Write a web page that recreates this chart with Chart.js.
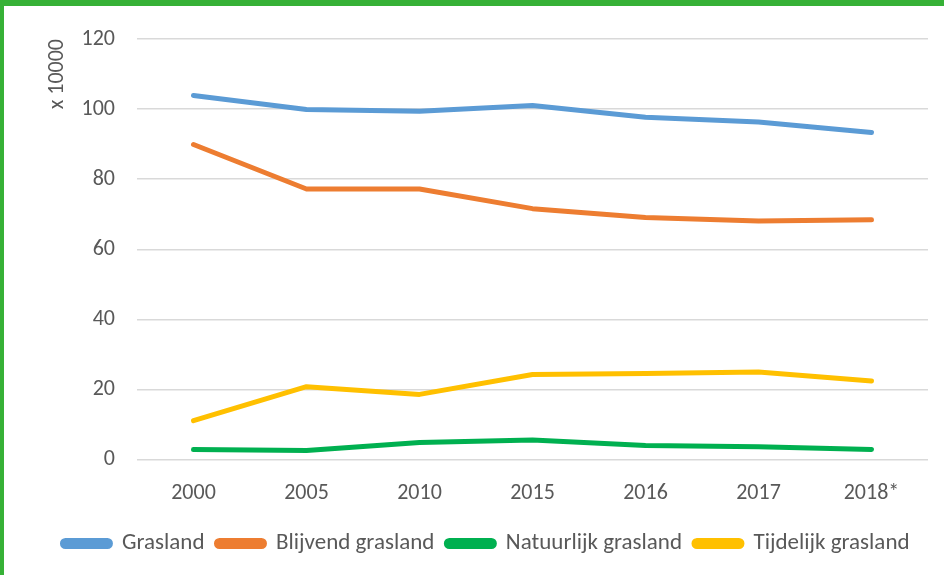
<!DOCTYPE html>
<html>
<head>
<meta charset="utf-8">
<script src="https://cdn.jsdelivr.net/npm/chart.js@4"></script>
<style>
body{margin:0;background:#fff;}
#wrap{width:940px;height:569px;border-top:6px solid #36b136;border-left:4px solid #36b136;}
</style>
</head>
<body>
<div id="wrap"><canvas id="mainCanvas" width="940" height="569"></canvas></div>
<script>
var years = ['2000','2005','2010','2015','2016','2017','2018*'];
var grasland = [103.9, 99.9, 99.4, 101.0, 97.7, 96.3, 93.3];
var blijvend = [89.9, 77.2, 77.2, 71.6, 69.1, 68.1, 68.4];
var natuurlijk = [2.9, 2.6, 4.9, 5.6, 4.0, 3.7, 2.9];
var tijdelijk = [11.1, 20.8, 18.6, 24.3, 24.6, 25.0, 22.4];
var yTicks = [0, 20, 40, 60, 80, 100, 120];

function serie(name, vals, col){
    return {label:name, data:vals, borderColor:col, backgroundColor:col,
        borderWidth:5, pointRadius:0, borderCapStyle:'round', borderJoinStyle:'round', tension:0};
}

var ctx = document.getElementById('mainCanvas').getContext('2d');
var fontFam = "Carlito, Lato, sans-serif";
new Chart(ctx, {
    type:'line',
    data:{
        labels:years,
        datasets:[
            serie('Grasland', grasland, '#5b9bd5'),
            serie('Blijvend grasland', blijvend, '#ed7d31'),
            serie('Natuurlijk grasland', natuurlijk, '#00b050'),
            serie('Tijdelijk grasland', tijdelijk, '#ffc000')
        ]
    },
    options:{
        responsive:false,
        animation:false,
        layout:{padding:{top:4,right:16,left:40,bottom:10}},
        plugins:{
            legend:{
                position:'bottom',
                labels:{
                    font:{family:fontFam,size:23},
                    color:'#595959',
                    boxWidth:48,
                    boxHeight:6,
                    useBorderRadius:true,
                    borderRadius:3,
                    padding:12
                }
            },
            tooltip:{enabled:false}
        },
        scales:{
            x:{
                offset:true,
                grid:{display:false},
                border:{display:false},
                ticks:{font:{family:fontFam,size:22},color:'#595959',padding:13}
            },
            y:{
                min:0,max:120,
                afterBuildTicks:function(s){ s.ticks = yTicks.map(function(v){return {value:v};}); },
                afterFit:function(s){ s.width = 93; },
                grid:{color:'#d9d9d9',lineWidth:1.5,drawTicks:false},
                border:{display:false},
                ticks:{font:{family:fontFam,size:22,lineHeight:1},color:'#595959',padding:22},
                title:{display:true,text:'x 10000',align:'end',font:{family:fontFam,size:22},color:'#595959',padding:{top:0,bottom:0}}
            }
        }
    }
});
</script>
</body>
</html>
